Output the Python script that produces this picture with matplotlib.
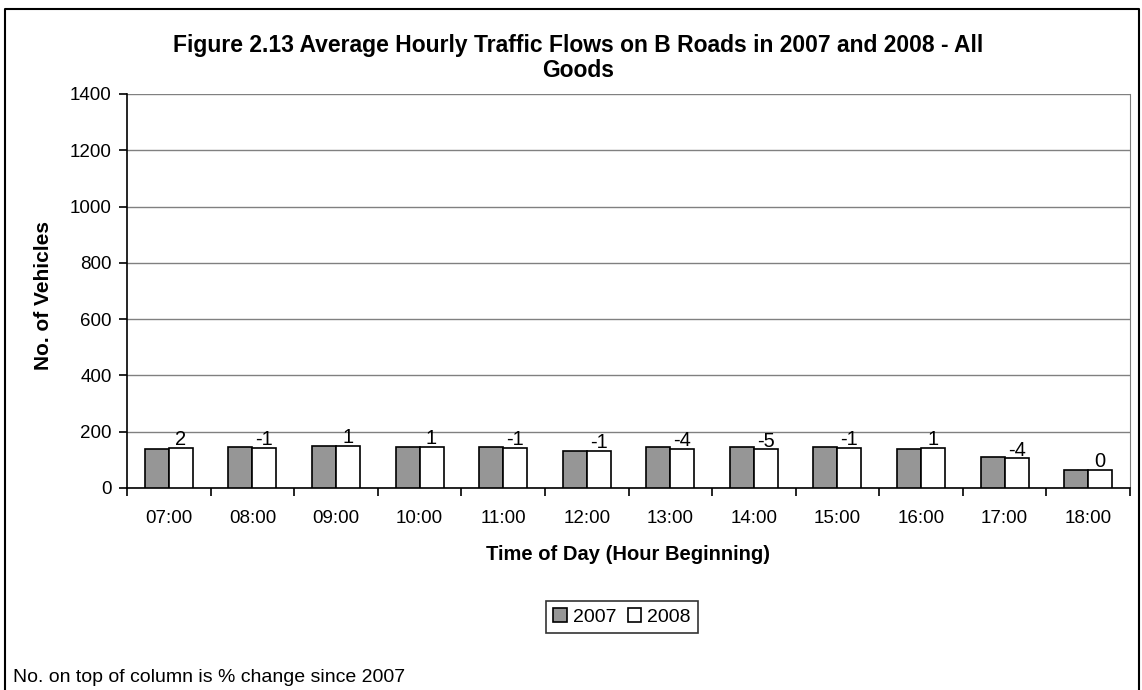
import matplotlib.pyplot as plt
import numpy as np
from matplotlib.lines import Line2D

hours = ["07:00", "08:00", "09:00", "10:00", "11:00", "12:00",
         "13:00", "14:00", "15:00", "16:00", "17:00", "18:00"]
flow_2007 = [138, 144, 149, 144, 144, 132, 144, 144, 144, 140, 110, 63]
flow_2008 = [141, 143, 150, 145, 142, 131, 138, 137, 143, 141, 105, 63]
pct_change = ["2", "-1", "1", "1", "-1", "-1", "-4", "-5", "-1", "1", "-4", "0"]

plt.rcParams['font.family'] = ['Liberation Sans', 'DejaVu Sans']

W, H = 1142, 690
fig = plt.figure(figsize=(W/100, H/100), dpi=100)
# plot area: x 127..1130, y 94..488 (pixels)
ax = fig.add_axes([127/W, 1 - 488/H, 1003/W, 394/H])

x = np.arange(len(hours))
w = 0.287
ax.bar(x - w/2, flow_2007, w, color='#969696', edgecolor='black', linewidth=1.2, label='2007', zorder=3)
ax.bar(x + w/2, flow_2008, w, color='white', edgecolor='black', linewidth=1.2, label='2008', zorder=3)

for xi, v, t in zip(x, flow_2008, pct_change):
    ax.text(xi + w/2, v - 4, t, ha='center', va='bottom', fontsize=14.5, zorder=4)

ax.set_xlim(-0.5, len(hours) - 0.5)
ax.set_ylim(0, 1400)
ax.set_yticks(range(0, 1401, 200))
ax.yaxis.grid(True, color='#808080', linewidth=1, zorder=0)
ax.set_xticks(x)
ax.set_xticklabels(hours)
ax.set_xticks(np.arange(-0.5, len(hours), 1), minor=True)
ax.tick_params(axis='x', which='major', length=0, pad=16, labelsize=13.5)
ax.tick_params(axis='x', which='minor', length=6, width=1.2, direction='out')
ax.tick_params(axis='y', length=6, width=1.2, labelsize=13.5, pad=5)
ax.spines['top'].set_visible(False)
ax.spines['right'].set_color('#808080')
ax.spines['left'].set_linewidth(1.2)
ax.spines['bottom'].set_linewidth(1.2)

ax.set_xlabel("Time of Day (Hour Beginning)", fontsize=14.5, fontweight='bold')
ax.xaxis.set_label_coords(628/W, 1 - 554/H, transform=fig.transFigure)
ax.set_ylabel("No. of Vehicles", fontsize=15, fontweight='bold')
ax.yaxis.set_label_coords(44/W, 1 - 296/H, transform=fig.transFigure)
ax.xaxis.label.set_va('center')
ax.yaxis.label.set_va('center')

fig.text(578/W, 1 - 58/H, "Figure 2.13 Average Hourly Traffic Flows on B Roads in 2007 and 2008 - All\nGoods",
         ha='center', va='center', fontsize=16.5, fontweight='bold', linespacing=1.1)

leg = ax.legend(loc='center', bbox_to_anchor=(622/W, 1 - 617/H), bbox_transform=fig.transFigure,
                ncol=2, frameon=True, fancybox=False, edgecolor='black', fontsize=14,
                handlelength=0.7, handleheight=0.7, handletextpad=0.3, columnspacing=0.6,
                borderpad=0.35)
leg.get_frame().set_linewidth(1.2)

fig.text(13/W, 1 - 678/H, "No. on top of column is % change since 2007", ha='left', va='center', fontsize=14)

# chart border (bottom edge runs off the image)
bx = [5/W, 5/W, 1139/W, 1139/W]
by = [0, 1 - 9/H, 1 - 9/H, 0]
fig.add_artist(Line2D(bx, by, transform=fig.transFigure, color='black', linewidth=1.5))

fig.savefig("out.png", dpi=100)
